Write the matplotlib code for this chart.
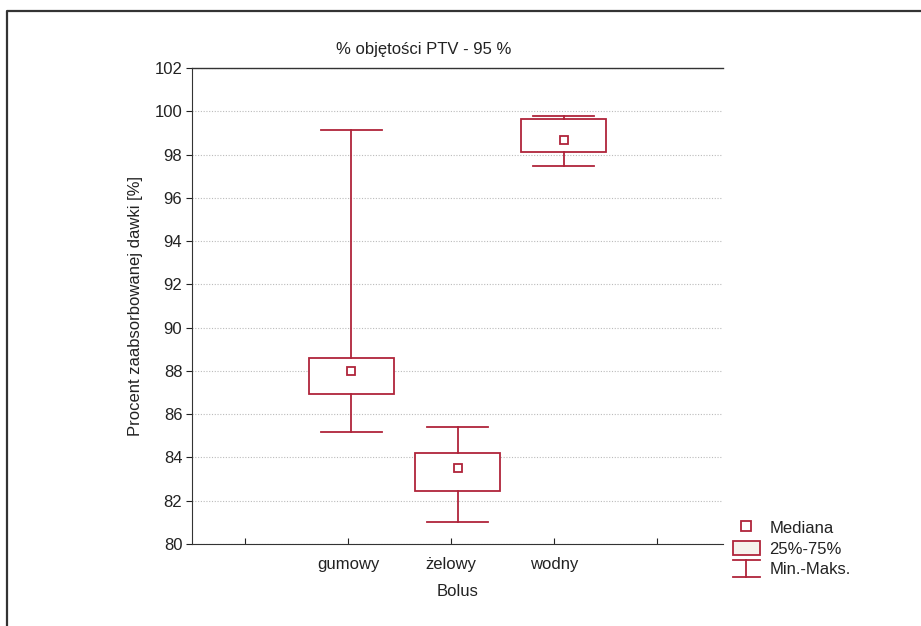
import matplotlib.pyplot as plt
from matplotlib.lines import Line2D
from matplotlib.patches import Rectangle
from matplotlib.legend_handler import HandlerBase

plt.rcParams['font.family'] = ['Liberation Sans', 'DejaVu Sans']

categories = ['gumowy', 'żelowy', 'wodny']
mins = [85.19, 81.02, 97.47]
q25 = [86.94, 82.44, 98.13]
medians = [87.98, 83.52, 98.69]
q75 = [88.58, 84.19, 99.64]
maxs = [99.13, 85.43, 99.78]

color = '#B0243A'
txt = '#222222'
W, H = 921, 626
fig = plt.figure(figsize=(W / 100, H / 100), dpi=100)
ax = fig.add_axes([192 / W, 1 - 544 / H, (723 - 192) / W, (544 - 68) / H])

# outer frame like Statistica export
fig.add_artist(Line2D([7 / W, 7 / W, 1.01], [-0.01, 1 - 11 / H, 1 - 11 / H],
                      transform=fig.transFigure, color='#333333', lw=1.6))

box_w = 0.8
cap_w = 0.57
for i, cat in enumerate(categories):
    x = i + 1
    ax.add_patch(Rectangle((x - box_w / 2, q25[i]), box_w, q75[i] - q25[i],
                           facecolor='white', edgecolor=color, lw=1.3, zorder=3))
    ax.plot([x, x], [q75[i], maxs[i]], color=color, lw=1.3, zorder=3)
    ax.plot([x, x], [mins[i], q25[i]], color=color, lw=1.3, zorder=3)
    ax.plot([x - cap_w / 2, x + cap_w / 2], [maxs[i]] * 2, color=color, lw=1.3, zorder=3)
    ax.plot([x - cap_w / 2, x + cap_w / 2], [mins[i]] * 2, color=color, lw=1.3, zorder=3)
    ax.plot(x, medians[i], marker='s', ms=6, mfc='white', mec=color, mew=1.3, zorder=4)

ax.set_xlim(-0.5, 4.5)
ax.set_ylim(80, 102)
ax.set_yticks(range(80, 103, 2))
ticks = [0, 0.97, 1.94, 2.91, 3.88]
ax.set_xticks(ticks)
ax.set_xticklabels([''] + categories + [''])
ax.tick_params(axis='both', labelsize=12, colors=txt, length=4)
ax.tick_params(axis='x', direction='in', pad=9)
ax.tick_params(axis='y', direction='out', pad=3)
ax.grid(axis='y', linestyle=(0, (1, 1.5)), color='#bbbbbb', lw=0.8)
for s in ['top', 'right']:
    ax.spines[s].set_visible(False)
for s in ['left', 'bottom']:
    ax.spines[s].set_color('#333333')
ax.plot([0, 1], [1, 1], transform=ax.transAxes, color='#333333', lw=1, clip_on=False)

ax.set_title('% objętości PTV - 95 %', fontsize=12, color=txt, pad=10, x=0.437)
ax.set_xlabel('Bolus', fontsize=12, color=txt, labelpad=9)
ax.set_ylabel('Procent zaabsorbowanej dawki [%]', fontsize=12, color=txt, labelpad=8)


class WhiskerHandler(HandlerBase):
    def create_artists(self, legend, orig_handle, xdescent, ydescent,
                       width, height, fontsize, trans):
        x0, x1 = -xdescent, width - xdescent
        bot, top = -ydescent - 1, height - ydescent + 1
        mid = (x0 + x1) / 2
        arts = [Line2D([x0, x1], [top, top]), Line2D([x0, x1], [bot, bot]),
                Line2D([mid, mid], [bot, top])]
        for a in arts:
            a.set_color(color)
            a.set_linewidth(1.3)
            a.set_transform(trans)
        return arts


whisker_handle = Line2D([], [], color=color)
handles = [
    Line2D([], [], marker='s', ls='none', ms=6.5, mfc='white', mec=color, mew=1.3),
    Rectangle((0, 0), 1, 1, facecolor='#F6F1EC', edgecolor=color, lw=1.3),
    whisker_handle,
]
leg = fig.legend(handles, ['Mediana', '25%-75%', 'Min.-Maks.'],
                 loc='upper left', bbox_to_anchor=(726 / W, 1 - 513 / H),
                 frameon=False, fontsize=12, handlelength=1.65, handleheight=0.95,
                 labelspacing=0.3, handletextpad=0.55, borderaxespad=0,
                 handler_map={whisker_handle: WhiskerHandler()})
for t in leg.get_texts():
    t.set_color(txt)
fig.savefig('out.png', dpi=100)
